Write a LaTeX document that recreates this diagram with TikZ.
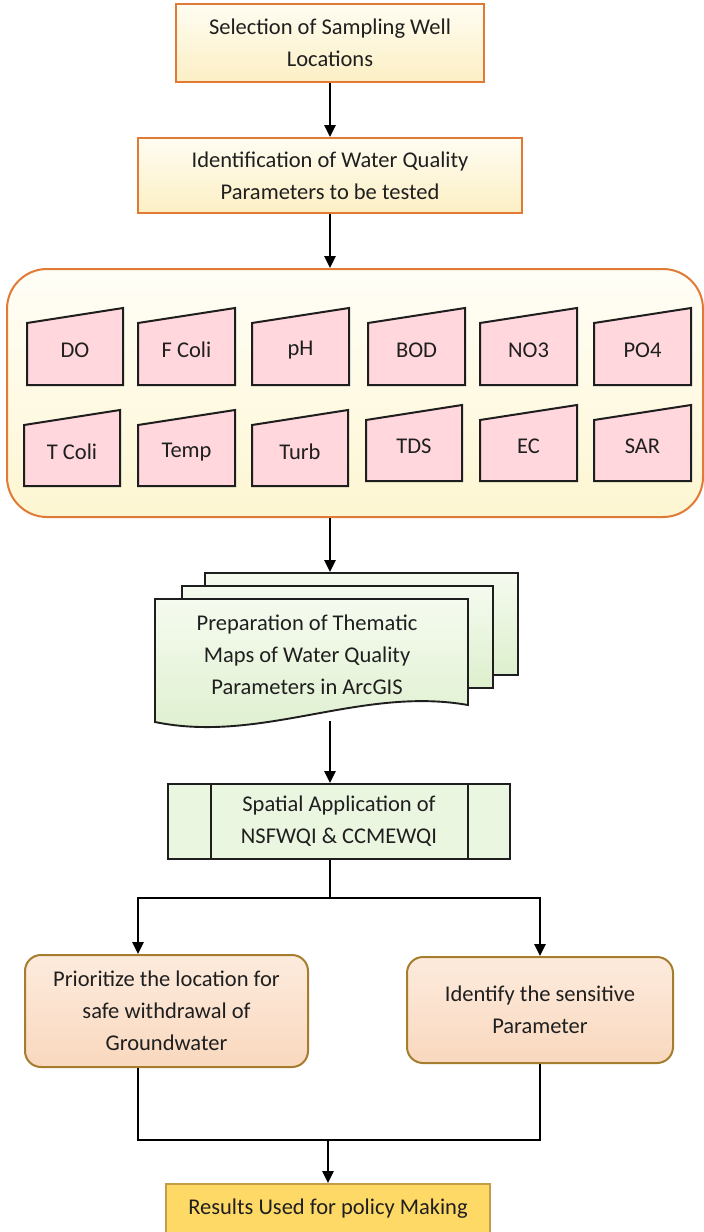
\documentclass[tikz,border=0pt]{standalone}
\usepackage{fontspec}
\setmainfont{Carlito}
\usetikzlibrary{arrows.meta,calc}
\definecolor{orangeb}{HTML}{E07A35}
\definecolor{ytop}{HTML}{FFFDF2}
\definecolor{ybot}{HTML}{FCEFC4}
\definecolor{ctop}{HTML}{FFFEF7}
\definecolor{cbot}{HTML}{FDF6D2}
\definecolor{pinkf}{HTML}{FFD7DD}
\definecolor{gtop}{HTML}{F5FBEF}
\definecolor{gbot}{HTML}{DDEFCD}
\definecolor{ptop}{HTML}{FDEBDD}
\definecolor{pbot}{HTML}{F9D8BE}
\definecolor{brownb}{HTML}{A67C2E}
\definecolor{goldf}{HTML}{FFD966}
\definecolor{goldb}{HTML}{C29D45}
\definecolor{darkl}{HTML}{1E1E1E}
\tikzset{
  arr/.style={-{Triangle[length=12pt,width=11pt]}, line width=2.6pt, draw=black},
  ln/.style={line width=2.6pt, draw=black},
  txt/.style={font=\fontsize{22.5}{32}\selectfont, align=center, text=black!88},
  ybox/.style={draw=orangeb, line width=2pt, top color=ytop, bottom color=ybot, inner sep=0pt, txt},
  pshape/.style={draw=darkl, line width=2pt, fill=pinkf, line join=miter},
  ptxt/.style={txt, inner sep=0pt},
  gdoc/.style={draw=darkl, line width=1.9pt, top color=gtop, bottom color=gbot},
  pbox/.style={draw=brownb, line width=2pt, top color=ptop, bottom color=pbot, rounded corners=16pt, inner sep=0pt, txt},
}
\newcommand\prm[7]{%
  \draw[pshape] (#2,#4) -- (#3,#5) -- (#3,#6) -- (#2,#6) -- cycle;
  \node[ptxt] (#1) at ({(#2+#3)/2},{((#4+#5)/2+#6)/2}) {#7};}
\begin{document}
\begin{tikzpicture}[x=1pt,y=-1pt]
\clip (0,0) rectangle (704,1232);
\fill[white] (0,0) rectangle (704,1232);
% top boxes
\node[ybox, minimum width=308pt, minimum height=78pt] (n1) at (330,43) {Selection of Sampling Well\\Locations};
\node[ybox, minimum width=384pt, minimum height=75pt] (n2) at (330,175.5) {Identification of Water Quality\\Parameters to be tested};
\draw[arr] (n1) -- (n2);
% container
\node[draw=orangeb, line width=2pt, top color=ctop, bottom color=cbot, rounded corners=40pt,
      minimum width=696pt, minimum height=248pt, inner sep=0pt] (params) at (355,393) {};
\draw[arr] (n2.south) -- (n2.south |- params.north);
% parameters row 1
\prm{pDO}{27}{123}{323}{308}{385}{DO}
\prm{pFC}{138}{235}{323}{308}{385}{F Coli}
\prm{ppH}{252}{349}{323}{308}{385}{pH}
\prm{pBOD}{368}{465}{323}{308}{385}{BOD}
\prm{pNO}{480}{577}{323}{308}{385}{NO3}
\prm{pPO}{594}{691}{323}{308}{385}{PO4}
% parameters row 2
\prm{pTC}{24}{120}{425}{410}{486}{T Coli}
\prm{pTe}{138}{235}{425}{410}{486}{Temp}
\prm{pTu}{252}{348}{425}{410}{486}{Turb}
\prm{pTDS}{366}{462}{420}{405}{481}{TDS}
\prm{pEC}{480}{577}{420}{405}{481}{EC}
\prm{pSAR}{594}{691}{420}{405}{481}{SAR}
% documents
\node[gdoc, minimum width=313pt, minimum height=102pt, inner sep=0pt] (doc3) at (361.5,624) {};
\node[gdoc, minimum width=311pt, minimum height=102pt, inner sep=0pt] (doc2) at (337.5,637) {};
\draw[gdoc] (155,599) -- (468,599) -- (468,705) .. controls (360,686) and (262,744) .. (155,722) -- cycle;
\node[txt, inner sep=0pt] (maps) at (307,655) {Preparation of Thematic\\Maps of Water Quality\\Parameters in ArcGIS};
\coordinate (mapsbot) at (330,721);
\draw[arr] (n2.south |- params.south) -- (n2.south |- doc3.north);
% spatial
\node[draw=darkl, line width=1.9pt, fill=gtop!60!gbot, minimum width=342pt, minimum height=75pt, inner sep=0pt, txt] (spatial) at (339,821.5) {Spatial Application of\\NSFWQI \& CCMEWQI};
\draw[line width=1.9pt, draw=darkl] ([xshift=44pt]spatial.north west) -- ([xshift=44pt]spatial.south west);
\draw[line width=1.9pt, draw=darkl] ([xshift=-43pt]spatial.north east) -- ([xshift=-43pt]spatial.south east);
\draw[arr] (mapsbot) -- (mapsbot |- spatial.north);
% split
\node[pbox, minimum width=283pt, minimum height=112pt] (prio) at (166.5,1011) {Prioritize the location for\\safe withdrawal of\\Groundwater};
\node[pbox, minimum width=266pt, minimum height=106pt] (ident) at (540,1010) {Identify the sensitive\\Parameter};
\coordinate (jT) at (330,898);
\coordinate (jB) at (328,1140);
\draw[ln] (n2.south |- spatial.south) -- (jT);
\draw[arr] (jT) -| ($(prio.north west)!0.4!(prio.north east)$);
\draw[arr] (jT) -| (ident.north);
% results
\node[draw=goldb, line width=1.8pt, fill=goldf, minimum width=324pt, minimum height=60pt, inner sep=0pt, txt, anchor=north] (res) at (328,1183) {\raisebox{14pt}{Results Used for policy Making}};
\draw[ln] ($(prio.south west)!0.4!(prio.south east)$) |- (jB);
\draw[ln] (ident.south) |- (jB);
\draw[arr] (jB) -- (res.north);
\end{tikzpicture}
\end{document}
